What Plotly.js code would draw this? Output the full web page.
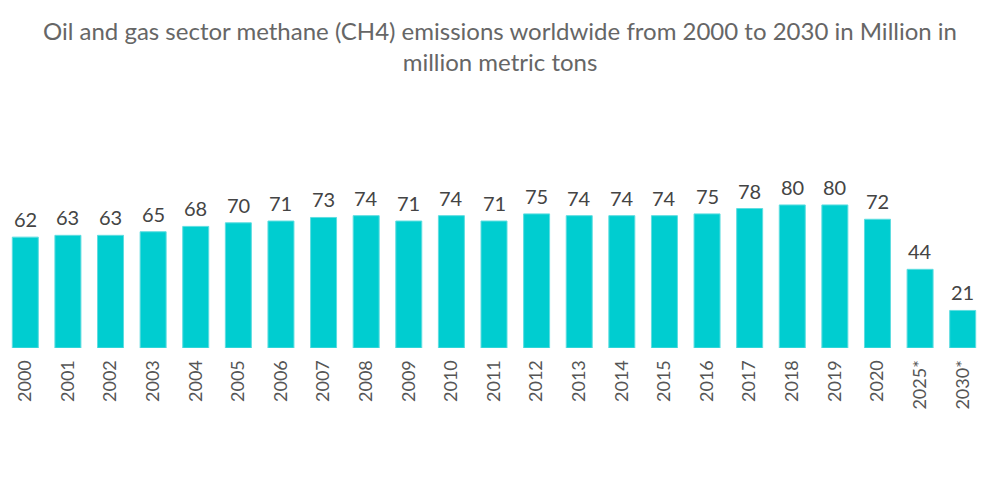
<!DOCTYPE html>
<html><head><meta charset="utf-8">
<script src="https://cdn.plot.ly/plotly-3.0.1.min.js"></script>
<style>html,body{margin:0;padding:0;background:#fff}#chart{width:1000px;height:504px}</style>
</head><body><div id="chart"></div>
<script>
var years = ["2000","2001","2002","2003","2004","2005","2006","2007","2008","2009","2010","2011","2012","2013","2014","2015","2016","2017","2018","2019","2020","2025*","2030*"];
var emissions = [62,63,63,65,68,70,71,73,74,71,74,71,75,74,74,74,75,78,80,80,72,44,21];
var chartTitle = "Oil and gas sector methane (CH4) emissions worldwide from 2000 to 2030 in Million in<br>million metric tons";

var valueLabels = years.map(function (yr, i) {
  return {x: i, y: emissions[i], xref: 'x', yref: 'y', text: String(emissions[i]),
    showarrow: false, yanchor: 'bottom', yshift: 4,
    font: {family: 'Lato, sans-serif', size: 20, color: '#444'}};
});

Plotly.newPlot('chart', [{
  type: 'bar',
  x: years,
  y: emissions,
  marker: {color: '#00CDD0', line: {color: '#5EDDE0', width: 1}},
  hoverinfo: 'x+y'
}], {
  width: 1000, height: 504,
  margin: {l: 4, r: 16, t: 196, b: 156},
  paper_bgcolor: '#fff', plot_bgcolor: '#fff',
  bargap: 0.39,
  showlegend: false,
  annotations: valueLabels,
  title: {text: chartTitle, x: 0.5, xanchor: 'center', y: 0.921, yanchor: 'top',
    font: {family: 'Lato, sans-serif', size: 24, color: '#666'}},
  xaxis: {type: 'category', categoryorder: 'array', categoryarray: years, range: [-0.5, years.length - 0.5],
    tickangle: -90, showgrid: false, zeroline: false, showline: false,
    ticks: 'outside', ticklen: 4, tickcolor: 'rgba(0,0,0,0)',
    tickfont: {family: 'Lato, sans-serif', size: 18, color: '#555'}},
  yaxis: {range: [0, 85], visible: false, showgrid: false, zeroline: false}
}, {displayModeBar: false, staticPlot: true});
</script></body></html>
